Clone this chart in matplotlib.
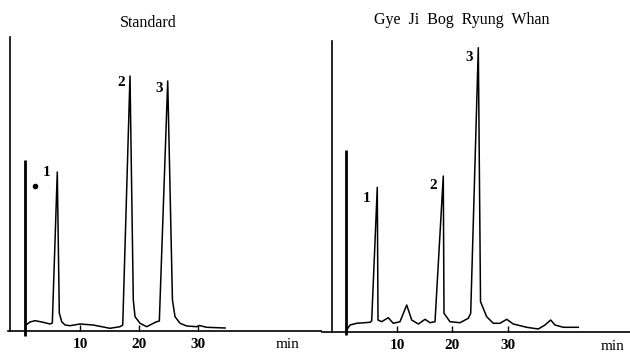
import numpy as np
import matplotlib
matplotlib.use("Agg")
import matplotlib.pyplot as plt

# Chromatogram traces
# time in min, signal in arbitrary detector units (0 = baseline axis)

# Standard
std_time = [0.85, 1.53, 2.37, 3.56, 4.92, 5.31, 6.15, 6.49, 6.90, 7.46, 8.31,
            10.0, 12.2, 15.08, 16.78, 17.24, 18.47, 19.03, 19.32, 20.17, 21.30,
            22.42, 23.0, 23.44, 24.86, 25.66, 26.10, 26.95, 28.08, 29.78,
            30.20, 31.47, 34.58]
std_signal = [6, 9, 10.3, 9, 7, 8, 159, 18, 9.3, 6, 5.3,
              7, 6, 2.7, 4.3, 6, 255, 31, 14.3, 7.7, 4.3,
              7.7, 9.3, 10, 250, 31, 14.3, 7.7, 5, 4.3,
              5.5, 3.7, 3]
std_inject = [0.70, -5, 171]          # time, bottom, top of injection spike

# Gye Ji Bog Ryung Whan sample
smp_time = [0.94, 1.53, 2.74, 5.14, 5.44, 6.45, 6.58, 7.24, 8.43, 9.33, 10.54,
            11.75, 12.65, 13.84, 15.05, 15.95, 16.85, 18.34, 18.47, 19.55,
            21.35, 22.85, 23.28, 24.65, 25.05, 26.16, 27.35, 28.56, 29.77,
            30.95, 33.37, 35.46, 36.67, 37.69, 38.47, 39.96, 42.67]
smp_signal = [2, 7, 8.7, 9.7, 11, 144.7, 12, 10.3, 14.3, 8.7, 10.3,
              27, 12, 8, 12.7, 9.3, 10.3, 156, 18.7, 10.3,
              9.3, 13.7, 18.7, 284.3, 30.3, 15.3, 8.7, 8.7, 12.7,
              8, 4.7, 3, 7, 12, 7, 4.7, 4.7]
smp_inject = [0.81, -3, 182]

# peak labels: (label, time, signal)
std_labels = [("1", 4.4, 158), ("2", 16.95, 248), ("3", 23.4, 243)]
smp_labels = [("1", 4.6, 134), ("2", 16.5, 147), ("3", 23.0, 275)]
tick_vals = [10, 20, 30]

W, H = 630, 352
fig = plt.figure(figsize=(W / 100, H / 100), dpi=100)
serif = "Liberation Serif"


def draw_panel(rect, xlim, ylim, yaxis_at, time, signal, inject, labels,
               title, title_x, title_y, min_x):
    # one chromatogram panel, rect given in pixels (left, bottom-from-top, width, height)
    l, b, w, h = rect
    ax = fig.add_axes([l / W, (H - b) / H, w / W, h / H])
    ax.set_xlim(*xlim)
    ax.set_ylim(*ylim)
    ax.plot(time, signal, color="black", lw=1.1, clip_on=False)
    ax.plot([inject[0], inject[0]], [inject[1], inject[2]], color="black",
            lw=2.0, clip_on=False, solid_capstyle="butt")
    for txt, t, s in labels:
        ax.text(t, s, txt, fontsize=11, fontweight="bold", family=serif,
                ha="center", va="center")
    ax.spines["top"].set_visible(False)
    ax.spines["right"].set_visible(False)
    ax.spines["left"].set_position(("data", yaxis_at))
    ax.spines["left"].set_linewidth(1.2)
    ax.spines["bottom"].set_linewidth(1.2)
    ax.set_yticks([])
    ax.set_xticks(tick_vals)
    ax.set_xticklabels([str(v) for v in tick_vals], family=serif,
                       fontsize=11, fontweight="bold")
    ax.tick_params(axis="x", direction="in", length=4, width=1, pad=5)
    ax.text(min_x, -14, "min", fontsize=11, family=serif,
            ha="center", va="center")
    fig.text(title_x / W, 1 - title_y / H, title, fontsize=11.5, family=serif,
             ha="center", va="center")
    return ax


ax1 = draw_panel((8, 331, 314, 294), (-2.2, 51.0), (0, 294), -1.86,
                 std_time, std_signal, std_inject, std_labels,
                 "Standard", 148, 23, 45.25)
ax1.plot([2.37], [145], "o", color="black", ms=3)

ax2 = draw_panel((322, 332, 308, 291), (-3.51, 51.98), (0, 291), -1.71,
                 smp_time, smp_signal, smp_inject, smp_labels,
                 "Gye  Ji  Bog  Ryung  Whan", 462, 20, 48.9)

fig.savefig("out.png", dpi=100)
